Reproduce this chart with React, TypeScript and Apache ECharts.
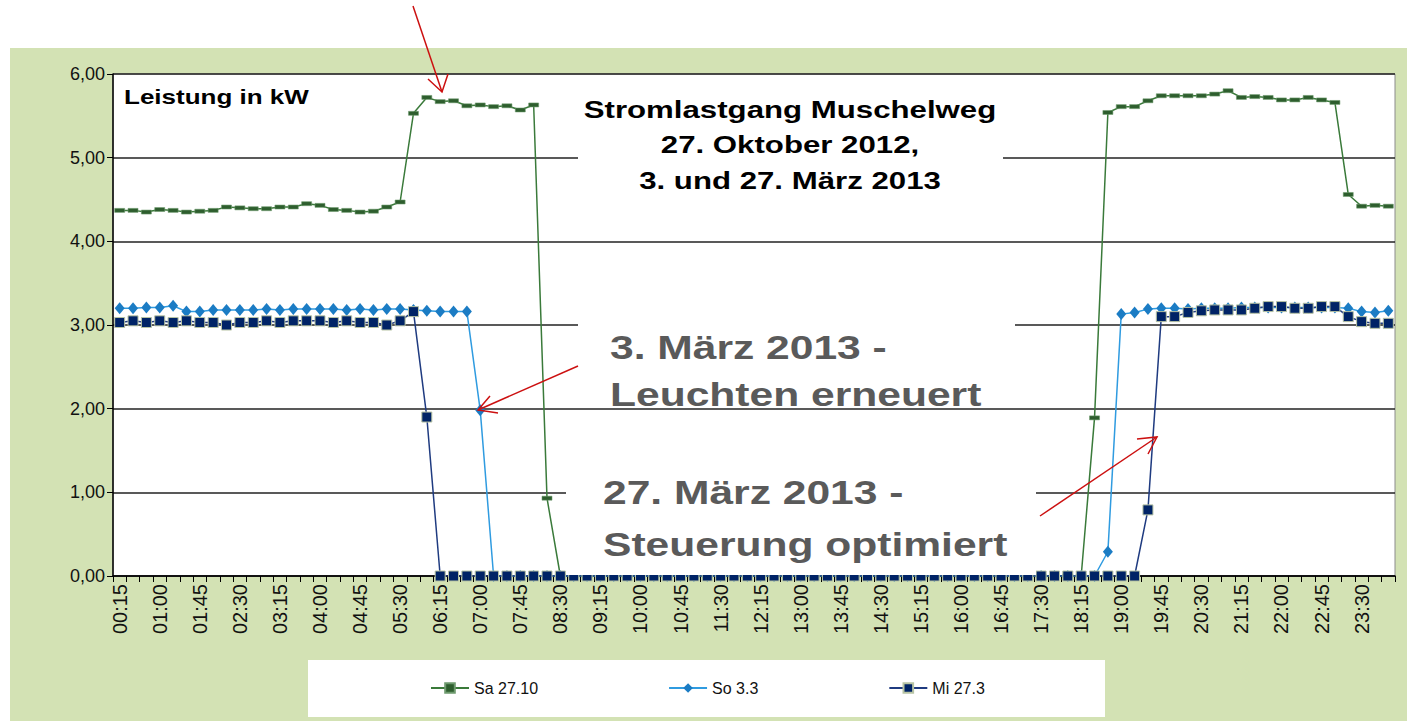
import React, { useEffect, useRef } from "react";
import * as echarts from "echarts";

const categories: string[] = [
  "00:15","00:30","00:45","01:00","01:15","01:30","01:45","02:00","02:15","02:30","02:45","03:00",
  "03:15","03:30","03:45","04:00","04:15","04:30","04:45","05:00","05:15","05:30","05:45","06:00",
  "06:15","06:30","06:45","07:00","07:15","07:30","07:45","08:00","08:15","08:30","08:45","09:00",
  "09:15","09:30","09:45","10:00","10:15","10:30","10:45","11:00","11:15","11:30","11:45","12:00",
  "12:15","12:30","12:45","13:00","13:15","13:30","13:45","14:00","14:15","14:30","14:45","15:00",
  "15:15","15:30","15:45","16:00","16:15","16:30","16:45","17:00","17:15","17:30","17:45","18:00",
  "18:15","18:30","18:45","19:00","19:15","19:30","19:45","20:00","20:15","20:30","20:45","21:00",
  "21:15","21:30","21:45","22:00","22:15","22:30","22:45","23:00","23:15","23:30","23:45","24:00"
];

const sa2710: number[] = [
  4.37, 4.37, 4.35, 4.38, 4.37, 4.35, 4.36, 4.37, 4.41, 4.40, 4.39, 4.39,
  4.41, 4.41, 4.45, 4.43, 4.38, 4.37, 4.35, 4.36, 4.41, 4.47, 5.53, 5.72,
  5.67, 5.68, 5.62, 5.63, 5.61, 5.62, 5.57, 5.63, 0.93, 0, 0, 0,
  0, 0, 0, 0, 0, 0, 0, 0, 0, 0, 0, 0,
  0, 0, 0, 0, 0, 0, 0, 0, 0, 0, 0, 0,
  0, 0, 0, 0, 0, 0, 0, 0, 0, 0, 0, 0,
  0, 1.89, 5.54, 5.61, 5.61, 5.68, 5.74, 5.74, 5.74, 5.74, 5.76, 5.80,
  5.72, 5.73, 5.72, 5.69, 5.69, 5.72, 5.69, 5.66, 4.56, 4.42, 4.43, 4.42
];

const so33: number[] = [
  3.20, 3.20, 3.21, 3.21, 3.23, 3.16, 3.16, 3.18, 3.18, 3.18, 3.18, 3.19,
  3.18, 3.19, 3.19, 3.19, 3.19, 3.18, 3.19, 3.18, 3.19, 3.19, 3.18, 3.17,
  3.16, 3.16, 3.16, 1.98, 0, 0, 0, 0, 0, 0, 0, 0,
  0, 0, 0, 0, 0, 0, 0, 0, 0, 0, 0, 0,
  0, 0, 0, 0, 0, 0, 0, 0, 0, 0, 0, 0,
  0, 0, 0, 0, 0, 0, 0, 0, 0, 0, 0, 0,
  0, 0, 0.29, 3.13, 3.15, 3.19, 3.20, 3.20, 3.19, 3.20, 3.20, 3.20,
  3.21, 3.21, 3.21, 3.21, 3.21, 3.21, 3.21, 3.21, 3.20, 3.16, 3.15, 3.17
];

const mi273: number[] = [
  3.03, 3.05, 3.03, 3.05, 3.03, 3.05, 3.03, 3.03, 3.00, 3.03, 3.03, 3.05,
  3.03, 3.05, 3.05, 3.05, 3.03, 3.05, 3.03, 3.03, 3.00, 3.05, 3.16, 1.90,
  0, 0, 0, 0, 0, 0, 0, 0, 0, 0, 0, 0,
  0, 0, 0, 0, 0, 0, 0, 0, 0, 0, 0, 0,
  0, 0, 0, 0, 0, 0, 0, 0, 0, 0, 0, 0,
  0, 0, 0, 0, 0, 0, 0, 0, 0, 0, 0, 0,
  0, 0, 0, 0, 0, 0.79, 3.10, 3.10, 3.15, 3.17, 3.18, 3.18,
  3.18, 3.20, 3.22, 3.22, 3.20, 3.20, 3.22, 3.22, 3.10, 3.04, 3.02, 3.02
];

const seriesNames = ["Sa 27.10", "So 3.3", "Mi 27.3"];
const titleLines = ["Stromlastgang Muschelweg", "27. Oktober 2012,", "3. und 27. März 2013"];
const unitLabel = "Leistung in kW";
const note1 = ["3. März 2013 -", "Leuchten erneuert"];
const note2 = ["27. März 2013 -", "Steuerung optimiert"];

const FONT = "'Liberation Sans', Arial, sans-serif";

export default function App() {
  const ref = useRef<HTMLDivElement | null>(null);

  useEffect(() => {
    if (!ref.current) return;
    const chart = echarts.init(ref.current, undefined, { renderer: "svg" });
    const red = "#cc1010";
    const gray = "#5a5a5a";
    const boldText = (text: string, x: number, y: number, size: number, fill: string, align: string, sx: number) => ({
      type: "text",
      x,
      y,
      scaleX: sx,
      z: 6,
      style: {
        text,
        fill,
        font: `bold ${size}px ${FONT}`,
        align,
        verticalAlign: "middle",
      },
    });

    const option: any = {
      animation: false,
      textStyle: { fontFamily: FONT },
      grid: {
        left: 113,
        right: 12,
        top: 74,
        bottom: 145,
        show: true,
        backgroundColor: "#ffffff",
        borderColor: "#8c8c8c",
        borderWidth: 1,
      },
      legend: {
        data: seriesNames,
        left: 430,
        top: 680,
        padding: 0,
        itemGap: 130,
        itemWidth: 38,
        itemHeight: 12,
        textStyle: { fontSize: 16, color: "#111", fontFamily: FONT },
      },
      xAxis: {
        type: "category",
        data: categories,
        boundaryGap: true,
        axisLine: { show: true, lineStyle: { color: "#000", width: 1.5 } },
        axisTick: { show: true, interval: 0, length: 6, lineStyle: { color: "#000", width: 1 } },
        axisLabel: { interval: 2, rotate: 90, fontSize: 20, color: "#111", margin: 8, fontFamily: FONT },
        splitLine: { show: false },
      },
      yAxis: {
        type: "value",
        min: 0,
        max: 6,
        interval: 1,
        axisLine: { show: true, lineStyle: { color: "#000", width: 1.5 } },
        axisTick: { show: true, length: 6, lineStyle: { color: "#000" } },
        axisLabel: {
          fontSize: 18,
          color: "#111",
          margin: 8,
          fontFamily: FONT,
          formatter: (v: number) => v.toFixed(2).replace(".", ","),
        },
        splitLine: { show: true, lineStyle: { color: "#222", width: 1.5 } },
      },
      series: [
        {
          name: seriesNames[0],
          type: "line",
          data: sa2710,
          showSymbol: true,
          showAllSymbol: true,
          symbol: "rect",
          symbolSize: [10, 4],
          lineStyle: { color: "#3a7a3a", width: 1.5 },
          itemStyle: { color: "#2e5e2e", borderColor: "#6e9a6e", borderWidth: 0.5 },
        },
        {
          name: seriesNames[1],
          type: "line",
          data: so33,
          showSymbol: true,
          showAllSymbol: true,
          symbol: "diamond",
          symbolSize: [10, 12],
          lineStyle: { color: "#2f9be0", width: 1.5 },
          itemStyle: { color: "#1b7cc4" },
        },
        {
          name: seriesNames[2],
          type: "line",
          data: mi273,
          showSymbol: true,
          showAllSymbol: true,
          symbol: "rect",
          symbolSize: 10,
          lineStyle: { color: "#1f3b80", width: 1.5 },
          itemStyle: { color: "#002366", borderColor: "#b8c4a4", borderWidth: 1 },
        },
      ],
      graphic: [
        { type: "rect", z: 4, shape: { x: 578, y: 90, width: 425, height: 110 }, style: { fill: "#fff" } },
        { type: "rect", z: 4, shape: { x: 578, y: 318, width: 437, height: 52 }, style: { fill: "#fff" } },
        { type: "rect", z: 4, shape: { x: 566, y: 468, width: 470, height: 107 }, style: { fill: "#fff" } },
        { type: "rect", z: 0, shape: { x: 308, y: 660, width: 797, height: 57 }, style: { fill: "#fff" } },
        boldText(unitLabel, 124, 97, 20, "#000", "left", 1.3),
        boldText(titleLines[0], 790, 110, 24, "#000", "center", 1.3),
        boldText(titleLines[1], 790, 145, 24, "#000", "center", 1.3),
        boldText(titleLines[2], 790, 181, 24, "#000", "center", 1.3),
        boldText(note1[0], 610, 348, 33, gray, "left", 1.29),
        boldText(note1[1], 610, 395, 33, gray, "left", 1.29),
        boldText(note2[0], 603, 493, 33, gray, "left", 1.29),
        boldText(note2[1], 603, 545, 33, gray, "left", 1.29),
        { type: "line", z: 7, shape: { x1: 413, y1: 6, x2: 442, y2: 92 }, style: { stroke: red, lineWidth: 1.5 } },
        { type: "polyline", z: 7, shape: { points: [[428, 79], [442, 92], [448, 74]] }, style: { stroke: red, lineWidth: 1.5, fill: null } },
        { type: "line", z: 7, shape: { x1: 578, y1: 366, x2: 478, y2: 410 }, style: { stroke: red, lineWidth: 1.5 } },
        { type: "polyline", z: 7, shape: { points: [[490, 396], [478, 410], [498, 413]] }, style: { stroke: red, lineWidth: 1.5, fill: null } },
        { type: "line", z: 7, shape: { x1: 1040, y1: 516, x2: 1157, y2: 437 }, style: { stroke: red, lineWidth: 1.5 } },
        { type: "polyline", z: 7, shape: { points: [[1137, 439], [1157, 437], [1148, 454]] }, style: { stroke: red, lineWidth: 1.5, fill: null } },
      ],
    };
    chart.setOption(option);
    return () => {
      chart.dispose();
    };
  }, []);

  return (
    <div style={{ position: "absolute", left: 0, top: 0, width: 1407, height: 721, background: "#ffffff", overflow: "hidden" }}>
      <div style={{ position: "absolute", left: 10, top: 48, right: 0, bottom: 0, background: "#d3e2b4" }} />
      <div ref={ref} style={{ position: "absolute", left: 0, top: 0, width: 1407, height: 721 }} />
    </div>
  );
}
